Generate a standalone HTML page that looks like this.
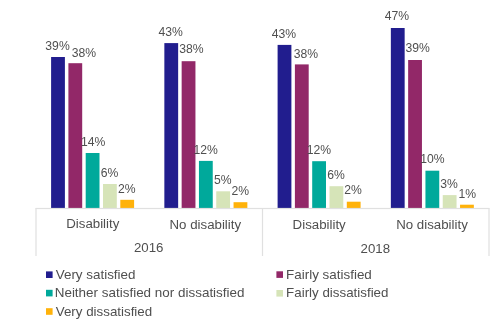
<!DOCTYPE html>
<html><head><meta charset="utf-8"><style>
html,body{margin:0;padding:0;background:#fff;width:500px;height:321px;overflow:hidden}
svg{display:block;will-change:transform}
text{font-family:"Liberation Sans",sans-serif;fill:#4F4F4F}
</style></head><body>
<svg width="500" height="321" viewBox="0 0 500 321">
<rect x="51.10" y="57" width="13.8" height="151.20" fill="#211D8E"/>
<rect x="68.40" y="63.2" width="13.8" height="145.00" fill="#922868"/>
<rect x="85.70" y="153" width="13.8" height="55.20" fill="#00A99B"/>
<rect x="103.00" y="184" width="13.8" height="24.20" fill="#D6E4B8"/>
<rect x="120.30" y="199.8" width="13.8" height="8.40" fill="#FFB20A"/>
<rect x="164.35" y="43.1" width="13.8" height="165.10" fill="#211D8E"/>
<rect x="181.65" y="61.2" width="13.8" height="147.00" fill="#922868"/>
<rect x="198.95" y="160.9" width="13.8" height="47.30" fill="#00A99B"/>
<rect x="216.25" y="191.3" width="13.8" height="16.90" fill="#D6E4B8"/>
<rect x="233.55" y="202.2" width="13.8" height="6.00" fill="#FFB20A"/>
<rect x="277.60" y="44.9" width="13.8" height="163.30" fill="#211D8E"/>
<rect x="294.90" y="64.4" width="13.8" height="143.80" fill="#922868"/>
<rect x="312.20" y="161.2" width="13.8" height="47.00" fill="#00A99B"/>
<rect x="329.50" y="186.2" width="13.8" height="22.00" fill="#D6E4B8"/>
<rect x="346.80" y="201.7" width="13.8" height="6.50" fill="#FFB20A"/>
<rect x="390.85" y="28" width="13.8" height="180.20" fill="#211D8E"/>
<rect x="408.15" y="60" width="13.8" height="148.20" fill="#922868"/>
<rect x="425.45" y="170.7" width="13.8" height="37.50" fill="#00A99B"/>
<rect x="442.75" y="195.1" width="13.8" height="13.10" fill="#D6E4B8"/>
<rect x="460.05" y="204.7" width="13.8" height="3.50" fill="#FFB20A"/>
<text transform="translate(45.34,50.1) scale(0.96,1)" font-size="12.7">39%</text>
<text transform="translate(71.74,57.1) scale(0.96,1)" font-size="12.7">38%</text>
<text transform="translate(81.07,146.1) scale(0.96,1)" font-size="12.7">14%</text>
<text transform="translate(100.68,177.1) scale(0.96,1)" font-size="12.7">6%</text>
<text transform="translate(117.89,192.8) scale(0.96,1)" font-size="12.7">2%</text>
<text transform="translate(158.42,35.7) scale(0.96,1)" font-size="12.7">43%</text>
<text transform="translate(179.24,52.5) scale(0.96,1)" font-size="12.7">38%</text>
<text transform="translate(193.47,153.6) scale(0.96,1)" font-size="12.7">12%</text>
<text transform="translate(213.91,183.7) scale(0.96,1)" font-size="12.7">5%</text>
<text transform="translate(231.39,194.6) scale(0.96,1)" font-size="12.7">2%</text>
<text transform="translate(271.72,37.6) scale(0.96,1)" font-size="12.7">43%</text>
<text transform="translate(293.64,58.3) scale(0.96,1)" font-size="12.7">38%</text>
<text transform="translate(306.67,153.6) scale(0.96,1)" font-size="12.7">12%</text>
<text transform="translate(327.28,179.4) scale(0.96,1)" font-size="12.7">6%</text>
<text transform="translate(344.29,194.2) scale(0.96,1)" font-size="12.7">2%</text>
<text transform="translate(384.82,20.45) scale(0.96,1)" font-size="12.7">47%</text>
<text transform="translate(405.54,52.4) scale(0.96,1)" font-size="12.7">39%</text>
<text transform="translate(420.27,163.2) scale(0.96,1)" font-size="12.7">10%</text>
<text transform="translate(440.24,187.8) scale(0.96,1)" font-size="12.7">3%</text>
<text transform="translate(458.47,197.5) scale(0.96,1)" font-size="12.7">1%</text>
<rect x="35.5" y="207.89999999999998" width="454" height="1.2" fill="#E0E0E0"/>
<rect x="35.4" y="208.2" width="1.2" height="47.80000000000001" fill="#E0E0E0"/>
<rect x="261.9" y="208.2" width="1.2" height="47.80000000000001" fill="#E0E0E0"/>
<rect x="488.4" y="208.2" width="1.2" height="47.80000000000001" fill="#E0E0E0"/>
<text transform="translate(66.21,228.4) scale(0.985,1)" font-size="13.5">Disability</text>
<text transform="translate(169.51,228.5) scale(0.985,1)" font-size="13.5">No disability</text>
<text transform="translate(292.61,228.5) scale(0.985,1)" font-size="13.5">Disability</text>
<text transform="translate(396.21,228.5) scale(0.985,1)" font-size="13.5">No disability</text>
<text transform="translate(133.93,252.4) scale(0.985,1)" font-size="13.5">2016</text>
<text transform="translate(360.53,252.8) scale(0.985,1)" font-size="13.5">2018</text>
<rect x="46" y="271.4" width="6.6" height="6.6" fill="#211D8E"/>
<text transform="translate(55.74,278.5) scale(1.005,1)" font-size="13.35">Very satisfied</text>
<rect x="276.4" y="271.3" width="6.6" height="6.6" fill="#922868"/>
<text transform="translate(286.10,278.5) scale(1.006,1)" font-size="13.35">Fairly satisfied</text>
<rect x="46" y="289.8" width="6.6" height="6.6" fill="#00A99B"/>
<text transform="translate(54.70,297.3) scale(1.008,1)" font-size="13.35">Neither satisfied nor dissatisfied</text>
<rect x="276.4" y="290" width="6.6" height="6.6" fill="#D6E4B8"/>
<text transform="translate(286.10,297.3) scale(1.0,1)" font-size="13.35">Fairly dissatisfied</text>
<rect x="46" y="308.2" width="6.6" height="6.6" fill="#FFB20A"/>
<text transform="translate(55.74,315.7) scale(1.0,1)" font-size="13.35">Very dissatisfied</text>
</svg>
</body></html>
